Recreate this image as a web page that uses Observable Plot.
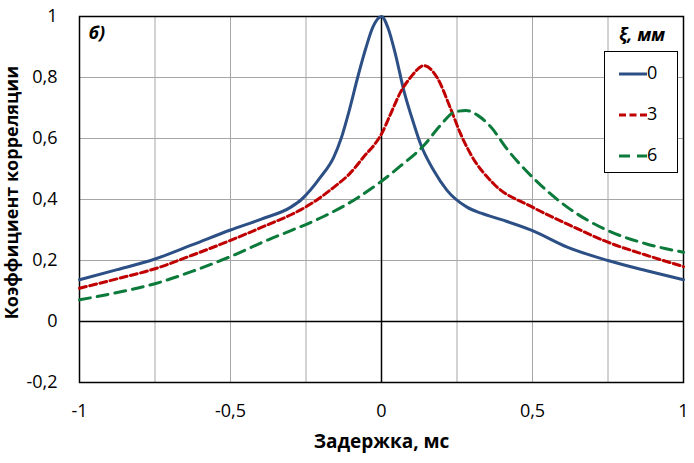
<!DOCTYPE html>
<html>
<head>
<meta charset="utf-8">
<script src="https://cdn.jsdelivr.net/npm/d3@7"></script>
<script src="https://cdn.jsdelivr.net/npm/@observablehq/plot@0.6"></script>
<style>
  html, body { margin: 0; padding: 0; background: #fff; }
  #wrap { position: relative; width: 694px; height: 463px; font-family: "Open Sans", sans-serif; }
  #legend { position: absolute; left: 604px; top: 51px; width: 72px; height: 120px; border: 1.5px solid #000; background: #fff; }
  #ltitle { position: absolute; left: 604px; top: 22px; width: 76px; text-align: center; font-weight: bold; font-style: italic; font-size: 18px; }
  .entry { position: absolute; left: 14px; height: 24px; font-size: 18px; line-height: 24px; }
  .entry svg { vertical-align: middle; }
</style>
</head>
<body>
<div id="wrap"></div>
<script>
// Series: ξ = 0 мм
const delay0 = [-1, -0.875, -0.75, -0.625, -0.5, -0.4, -0.3, -0.265, -0.202, -0.158, -0.134, -0.106, -0.079, -0.051, -0.029, 0, 0.021, 0.046, 0.074, 0.107, 0.129, 0.173, 0.217, 0.283, 0.33, 0.4, 0.5, 0.615, 0.75, 0.875, 1];
const corr0  = [0.137, 0.17, 0.205, 0.252, 0.300, 0.335, 0.375, 0.400, 0.473, 0.539, 0.599, 0.695, 0.80, 0.899, 0.964, 1.0, 0.964, 0.877, 0.757, 0.648, 0.583, 0.495, 0.43, 0.375, 0.355, 0.333, 0.298, 0.244, 0.2, 0.167, 0.137];
// Series: ξ = 3 мм
const delay3 = [-1, -0.875, -0.75, -0.625, -0.5, -0.375, -0.3, -0.235, -0.158, -0.106, -0.051, -0.025, 0, 0.03, 0.063, 0.096, 0.14, 0.184, 0.228, 0.262, 0.295, 0.372, 0.5, 0.625, 0.75, 0.875, 1];
const corr3  = [0.109, 0.14, 0.173, 0.218, 0.266, 0.318, 0.35, 0.385, 0.44, 0.484, 0.549, 0.578, 0.615, 0.68, 0.752, 0.80, 0.839, 0.80, 0.70, 0.615, 0.549, 0.451, 0.375, 0.315, 0.26, 0.218, 0.18];
// Series: ξ = 6 мм
const delay6 = [-1, -0.875, -0.75, -0.625, -0.5, -0.375, -0.3, -0.19, -0.08, 0, 0.063, 0.14, 0.195, 0.24, 0.28, 0.32, 0.36, 0.42, 0.5, 0.615, 0.75, 0.875, 1];
const corr6  = [0.071, 0.095, 0.124, 0.165, 0.213, 0.268, 0.298, 0.345, 0.405, 0.46, 0.51, 0.577, 0.643, 0.686, 0.692, 0.675, 0.64, 0.56, 0.473, 0.375, 0.298, 0.255, 0.227];

const seriesNames = ["0", "3", "6"];
const seriesColors = ["#2c4f85", "#c00000", "#0b7a3a"];
const seriesDash = [null, "7,3.5", "11,7"];

const xTicks = [-1, -0.5, 0, 0.5, 1];
const xGrid = [-1, -0.75, -0.5, -0.25, 0, 0.25, 0.5, 0.75, 1];
const yTicks = [-0.2, 0, 0.2, 0.4, 0.6, 0.8, 1];

const xTitle = "Задержка, мс";
const yTitle = "Коэффициент корреляции";
const panelLabel = "б)";
const legendTitle = "ξ, мм";

const toRows = (xs, ys, s) => xs.map((x, i) => ({x, y: ys[i], s}));
const rows = [toRows(delay0, corr0, "0"), toRows(delay3, corr3, "3"), toRows(delay6, corr6, "6")];

const fmt = d => String(d).replace(".", ",");

const chart = Plot.plot({
  width: 694,
  height: 463,
  marginLeft: 79,
  marginRight: 11,
  marginTop: 16,
  marginBottom: 81,
  style: {fontFamily: "Open Sans, sans-serif", fontSize: "18px", color: "#000", background: "#fff"},
  x: {domain: [-1, 1]},
  y: {domain: [-0.2, 1]},
  marks: [
    Plot.gridX(xGrid, {stroke: "#a6a6a6", strokeOpacity: 1, strokeWidth: 1}),
    Plot.gridY(yTicks, {stroke: "#a6a6a6", strokeOpacity: 1, strokeWidth: 1}),
    Plot.ruleX([0], {stroke: "#000", strokeWidth: 1.5}),
    Plot.ruleY([0], {stroke: "#000", strokeWidth: 1.5}),
    Plot.frame({stroke: "#000", strokeWidth: 1.5}),
    ...rows.map((r, i) => Plot.line(r, {
      x: "x", y: "y", curve: "monotone-x",
      stroke: seriesColors[i], strokeWidth: 3,
      strokeDasharray: seriesDash[i] ?? undefined
    })),
    Plot.axisX(xTicks, {tickSize: 0, tickPadding: 22, tickFormat: fmt, fontSize: 18, label: null}),
    Plot.axisY(yTicks, {tickSize: 0, tickPadding: 22, tickFormat: fmt, fontSize: 18, label: null}),
    Plot.text([panelLabel], {text: d => d, frameAnchor: "top-left", dx: 9, dy: 10, textAnchor: "start", lineAnchor: "top", fontWeight: "bold", fontStyle: "italic", fontSize: 18}),
    Plot.text([yTitle], {text: d => d, frameAnchor: "left", dx: -67, dy: -7, rotate: -90, textAnchor: "middle", lineAnchor: "middle", fontWeight: "bold", fontSize: 18}),
    Plot.text([xTitle], {text: d => d, frameAnchor: "bottom", dy: 59, textAnchor: "middle", lineAnchor: "middle", fontWeight: "bold", fontSize: 19})
  ]
});

const wrap = document.getElementById("wrap");
wrap.appendChild(chart);

const lt = document.createElement("div");
lt.id = "ltitle";
lt.textContent = legendTitle;
wrap.appendChild(lt);

const legend = document.createElement("div");
legend.id = "legend";
seriesNames.forEach((name, i) => {
  const e = document.createElement("div");
  e.className = "entry";
  e.style.top = (8 + i * 41) + "px";
  const dash = seriesDash[i] ? `stroke-dasharray="${seriesDash[i]}"` : "";
  e.innerHTML = `<svg width="28" height="10"><line x1="0" y1="5" x2="28" y2="5" stroke="${seriesColors[i]}" stroke-width="3" ${dash}/></svg><span>${name}</span>`;
  legend.appendChild(e);
});
wrap.appendChild(legend);
</script>
</body>
</html>
